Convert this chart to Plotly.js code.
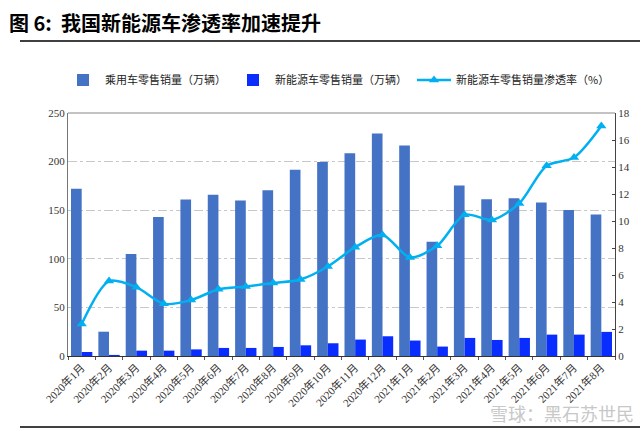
<!DOCTYPE html>
<html>
<head>
<meta charset="utf-8">
<script src="https://cdn.plot.ly/plotly-3.0.1.min.js"></script>
<style>html,body{margin:0;padding:0;background:#fff;}#chart{width:640px;height:433px;}</style>
</head>
<body>
<div id="chart"></div>
<script>
const categories = ["2020年1月","2020年2月","2020年3月","2020年4月","2020年5月","2020年6月","2020年7月","2020年8月","2020年9月","2020年10月","2020年11月","2020年12月","2021年1月","2021年2月","2021年3月","2021年4月","2021年5月","2021年6月","2021年7月","2021年8月"];
const passengerSales = [172, 25, 105, 143, 161, 166, 160, 170.5, 191.5, 199.5, 208.5, 229, 216.5, 117.5, 175.5, 161.3, 162.4, 158, 150.3, 145.5];
const nevSales = [4.1, 1.1, 5.5, 5.5, 6.8, 8.3, 8.3, 9.3, 11, 13.1, 16.9, 20.3, 15.9, 9.7, 18.6, 16.5, 18.6, 22, 22, 24.8];
const nevRate = [2.37, 5.55, 5.1, 3.87, 4.14, 4.95, 5.15, 5.4, 5.67, 6.63, 8.06, 8.97, 7.3, 8.16, 10.47, 10.08, 11.3, 14.1, 14.7, 17.03];
const seriesNames = ["乘用车零售销量（万辆）","新能源车零售销量（万辆）","新能源车零售销量渗透率（%）"];

const cjk = "Noto Sans CJK SC, sans-serif";
const serif = "Liberation Serif, Noto Sans CJK SC, serif";

const traces = [
  {type:"bar", name:seriesNames[0], x:categories, y:passengerSales, marker:{color:"#4472C4"}, yaxis:"y"},
  {type:"bar", name:seriesNames[1], x:categories, y:nevSales, marker:{color:"#0A2DFF"}, yaxis:"y"},
  {type:"scatter", mode:"lines+markers", name:seriesNames[2], x:categories, y:nevRate, yaxis:"y2",
   line:{color:"#00B0F0", width:2.5, shape:"spline", smoothing:0.8},
   marker:{symbol:"triangle-up", size:9, color:"#00B0F0"}}
];

const P0 = 68, PW = 547;
const px = v => (v - P0) / PW;
const T0 = 113, PH = 243;
const py = v => (T0 + PH - v) / PH;

const layout = {
  width:640, height:433,
  margin:{l:68, r:25, t:113, b:77, autoexpand:false},
  paper_bgcolor:"#fff", plot_bgcolor:"#fff",
  title:{text:"<b>图 6:  我国新能源车渗透率加速提升</b>", x:9/640, xanchor:"left", y:1-24/433, yanchor:"middle",
         font:{family:cjk, size:20, color:"#000"}, automargin:false},
  barmode:"group", bargap:0.22, bargroupgap:0,
  showlegend:true,
  legend:{orientation:"h", x:px(61), xanchor:"left", y:py(80), yanchor:"middle",
          font:{family:cjk, size:11, color:"#222"}, bgcolor:"rgba(0,0,0,0)", tracegroupgap:0,
          itemwidth:34, traceorder:"normal"},
  xaxis:{type:"category", range:[-0.5, categories.length - 0.5], tickangle:-45,
         tickfont:{family:serif, size:11, color:"#333"}, automargin:false,
         showline:true, linecolor:"#333", linewidth:1, mirror:false,
         ticks:"outside", tickson:"boundaries", ticklen:3, tickcolor:"#555", showgrid:false},
  yaxis:{range:[0,250], dtick:50, tickfont:{family:serif, size:11, color:"#333"}, automargin:false,
         showline:true, linecolor:"#777", linewidth:1, ticks:"", showgrid:true, gridcolor:"#C8C8C8",
         griddash:"dashdot", gridwidth:1, zeroline:false},
  yaxis2:{range:[0,18], dtick:2, overlaying:"y", side:"right", tickfont:{family:serif, size:11, color:"#333"}, automargin:false,
          showline:true, linecolor:"#444", linewidth:1, ticks:"inside", ticklen:3, tickcolor:"#444",
          showgrid:false, zeroline:false},
  shapes:[
    {type:"line", xref:"paper", yref:"paper", x0:0, x1:1, y0:1, y1:1, line:{color:"#888", width:1}},
    {type:"line", xref:"paper", yref:"paper", x0:px(20), x1:px(640), y0:py(41), y1:py(41), line:{color:"#000", width:1.5}},
    {type:"line", xref:"paper", yref:"paper", x0:px(20), x1:px(640), y0:py(427), y1:py(427), line:{color:"#000", width:1.5}}
  ],
  annotations:[
    {text:"雪球：黑石苏世民", xref:"paper", yref:"paper", x:px(636), y:py(413), xanchor:"right", yanchor:"middle",
     showarrow:false, font:{family:cjk, size:18, color:"#C8C8C8"}}
  ]
};

Plotly.newPlot("chart", traces, layout, {displayModeBar:false, staticPlot:true});
</script>
</body>
</html>
